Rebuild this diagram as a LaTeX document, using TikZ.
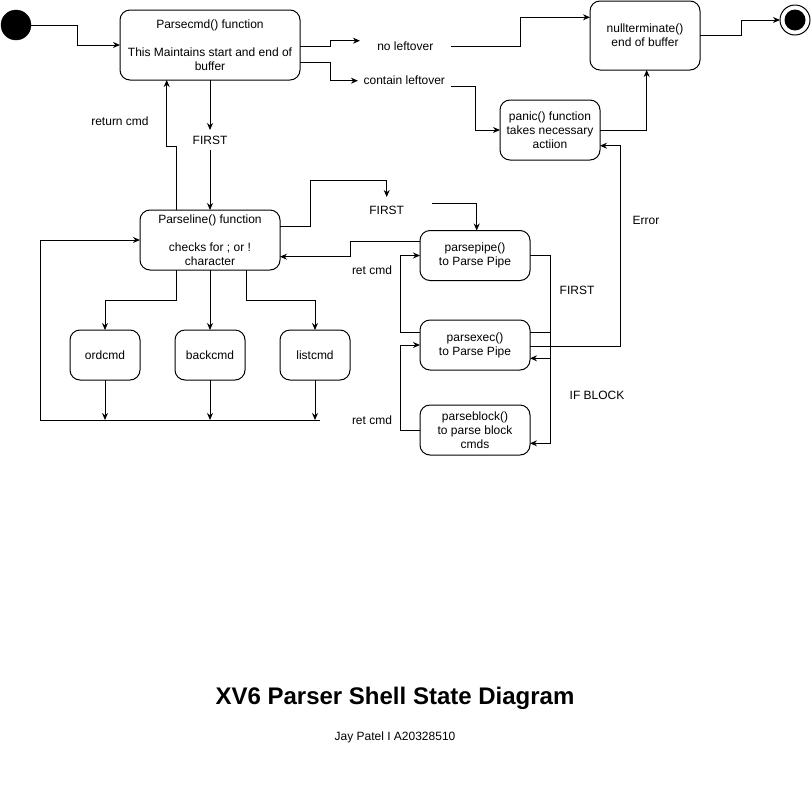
\documentclass[tikz,border=0pt]{standalone}
\usepackage{fontspec}
\setmainfont{Liberation Sans}
\usetikzlibrary{arrows.meta,calc}
\begin{document}
\begin{tikzpicture}[x=1pt,y=-1pt,
  box/.style={draw,rounded corners=10pt,inner sep=0pt,outer sep=0pt,align=center,font=\fontsize{12}{14}\selectfont,line width=1pt},
  lbl/.style={inner sep=0pt,outer sep=0pt,align=center,font=\fontsize{12}{14}\selectfont},
  arr/.style={-{Stealth[length=7pt,width=6pt]},line width=1pt},
  ln/.style={line width=1pt}]
\useasboundingbox (0,0) rectangle (811,801);

% states
\node[circle,fill=black,draw,minimum size=30pt,inner sep=0pt,outer sep=0pt] (start) at (16,25) {};
\node[circle,draw,line width=1pt,minimum size=30pt,inner sep=0pt,outer sep=0pt] (fin) at (795,20) {};
\fill (fin.center) circle (10.5pt);

\node[box,minimum width=180pt,minimum height=70pt] (pc) at (210,45) {Parsecmd() function\\[14pt]This Maintains start and end of\\buffer};
\node[box,minimum width=110pt,minimum height=69pt] (nt) at (645,35.5) {nullterminate()\\end of buffer};
\node[box,minimum width=100pt,minimum height=60pt] (panic) at (550,130) {panic() function\\takes necessary\\actiion};
\node[box,minimum width=140pt,minimum height=60pt] (pl) at (210,240) {Parseline() function\\[14pt]checks for ; or !\\character};
\node[box,minimum width=70pt,minimum height=50pt] (ord) at (105,355) {ordcmd};
\node[box,minimum width=70pt,minimum height=50pt] (back) at (210,355) {backcmd};
\node[box,minimum width=70pt,minimum height=50pt] (list) at (315,355) {listcmd};
\node[box,minimum width=110pt,minimum height=50pt] (pp) at (475,255.5) {parsepipe()\\to Parse Pipe};
\node[box,minimum width=110pt,minimum height=50pt] (px) at (475,345) {parsexec()\\to Parse Pipe};
\node[box,minimum width=110pt,minimum height=50pt] (pb) at (475,430) {parseblock()\\to parse block\\cmds};

% labels
\node[lbl,minimum width=90.7pt,minimum height=14pt] (nolo) at (405.3,46) {no leftover};
\node[lbl,minimum width=92.7pt,minimum height=14pt] (cleft) at (404.3,80.7) {contain leftover};
\node[lbl,minimum height=20pt] (first1) at (210,140) {FIRST};
\node[lbl] (retc) at (120,121) {return cmd};
\node[lbl,minimum width=90pt,minimum height=26pt] (first2) at (386.7,210) {FIRST};
\node[lbl] (err) at (646,220) {Error};
\node[lbl] (ret1) at (372,270) {ret cmd};
\node[lbl] (ret2) at (372,420) {ret cmd};
\node[lbl] (first3) at (577,290) {FIRST};
\node[lbl] (ifb) at (597,395) {IF BLOCK};

\node[font=\fontsize{24}{28}\selectfont\bfseries,inner sep=0pt] (title) at (395,698) {XV6 Parser Shell State Diagram};
\node[font=\fontsize{12}{14}\selectfont,inner sep=0pt] (auth) at (395,737) {Jay Patel I A20328510};

\coordinate (bl) at (40,420);
\coordinate (br) at (320,420);

% connectors
\draw[arr] (start.east) -- (77,25) |- (pc.west);
\draw[arr] ([yshift=-1.7pt]pc.east) -- (330,46.7) |- ([yshift=5.3pt]nolo.west);
\draw[arr] (nolo.east) -- (520,46) |- ([yshift=18.2pt]nt.west);
\draw[arr] ([yshift=-17pt]pc.east) -- (330,62) |- (cleft.west);
\draw[arr] ([yshift=-6pt]cleft.east) -- (475.7,86.7) |- (panic.west);
\draw[arr] (panic.east) -| ([xshift=1.7pt]nt.south);
\draw[arr] (nt.east) -- (741,35.5) |- (fin.west);

\draw[arr] (pc.south) -- (first1.north);
\draw[arr] (first1.south) -- (pl.north);
\draw[arr] ([xshift=-33.3pt]pl.north) -- (176.7,146.7) -| ([xshift=-43.3pt]pc.south);

\draw[arr] ([yshift=13.3pt]pl.east) -- (310,226.7) -- (310,180) -| (first2.north);
\draw[arr] ([yshift=7pt]first2.east) -| ([xshift=1.7pt]pp.north);
\draw[arr] ([yshift=13.8pt]pp.west) -- (350,241.7) |- ([yshift=-16.7pt]pl.east);

\draw[ln] (bl) -- (br);
\draw[arr] (bl) |- (pl.west);
\draw[arr] ([xshift=-33.3pt]pl.south) -- (176.7,300) -| (ord.north);
\draw[arr] (pl.south) -- (back.north);
\draw[arr] ([xshift=36.7pt]pl.south) -- (246.7,300) -| (list.north);
\draw[arr] (ord.south) -- (ord.south |- bl);
\draw[arr] (back.south) -- (back.south |- bl);
\draw[arr] (list.south) -- (list.south |- bl);

\draw[arr] (pp.east) -- (550,255.5) |- ([yshift=-13.3pt]px.east);
\draw[arr] ([yshift=12.3pt]px.east) -- (550,332.7) |- ([yshift=-13.3pt]pb.east);
\draw[arr] ([yshift=12.3pt]px.west) -- (400,332.7) |- (pp.west);
\draw[arr] (pb.west) -- (400,430) |- (px.west);
\draw[arr] ([yshift=-1.7pt]px.east) -- (620,346.7) |- ([yshift=-15.7pt]panic.east);
\end{tikzpicture}
\end{document}
